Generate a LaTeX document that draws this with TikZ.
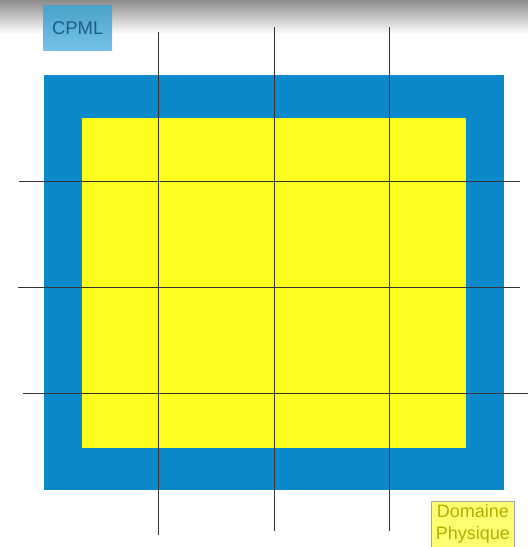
\documentclass[tikz,border=0pt]{standalone}
\usepackage{fontspec}
\setmainfont{Liberation Sans}
\definecolor{cpmlblue}{HTML}{0A8ACB}
\definecolor{physyellow}{HTML}{FCFC1E}
\definecolor{gridline}{HTML}{333333}
\definecolor{labelblueA}{HTML}{4AA2CB}
\definecolor{labelblueB}{HTML}{74C3E7}
\definecolor{labeltextblue}{HTML}{1B5E8A}
\definecolor{paleyellow}{HTML}{FDFD72}
\definecolor{olivetext}{HTML}{B5AE00}
\begin{document}
\begin{tikzpicture}[x=1pt,y=-1pt,
  gridln/.style={draw=gridline,line width=0.8pt},
  cpmllabel/.style={anchor=north west,minimum width=69pt,minimum height=45pt,inner sep=0pt,
     top color=labelblueA,bottom color=labelblueB,text=labeltextblue,font=\fontsize{18.5}{20}\selectfont},
  physlabel/.style={anchor=north west,minimum width=83pt,minimum height=46pt,inner sep=0pt,
     fill=paleyellow,draw=gray!70,line width=0.6pt,text=olivetext,align=center,
     font=\fontsize{18}{22}\selectfont}]
\useasboundingbox (0,0) rectangle (528,547);
\fill[white] (0,0) rectangle (528,547);
\shade[top color=gray!90,bottom color=white] (0,0) rectangle (528,34);
\fill[cpmlblue] (44,75) rectangle (504,490);
\fill[physyellow] (82,118) rectangle (466,448);
% grid lines
\coordinate (v1t) at (158,32);  \coordinate (v1b) at (158,535);
\coordinate (v2t) at (274,27);  \coordinate (v2b) at (274,531);
\coordinate (v3t) at (389,27);  \coordinate (v3b) at (389,531);
\coordinate (h1l) at (19,181);  \coordinate (h1r) at (520,181);
\coordinate (h2l) at (18,287);  \coordinate (h2r) at (520,287);
\coordinate (h3l) at (23,393);  \coordinate (h3r) at (528,393);
\draw[gridln] (v1t) -- (v1b);
\draw[gridln] (v2t) -- (v2b);
\draw[gridln] (v3t) -- (v3b);
\draw[gridln] (h1l) -- (h1r);
\draw[gridln] (h2l) -- (h2r);
\draw[gridln] (h3l) -- (h3r);
\node[cpmllabel] (cpml) at (43,5) {\raisebox{-2pt}{CPML}};
\node[physlabel] (phys) at (431,501) {Domaine\\Physique};
\end{tikzpicture}
\end{document}
